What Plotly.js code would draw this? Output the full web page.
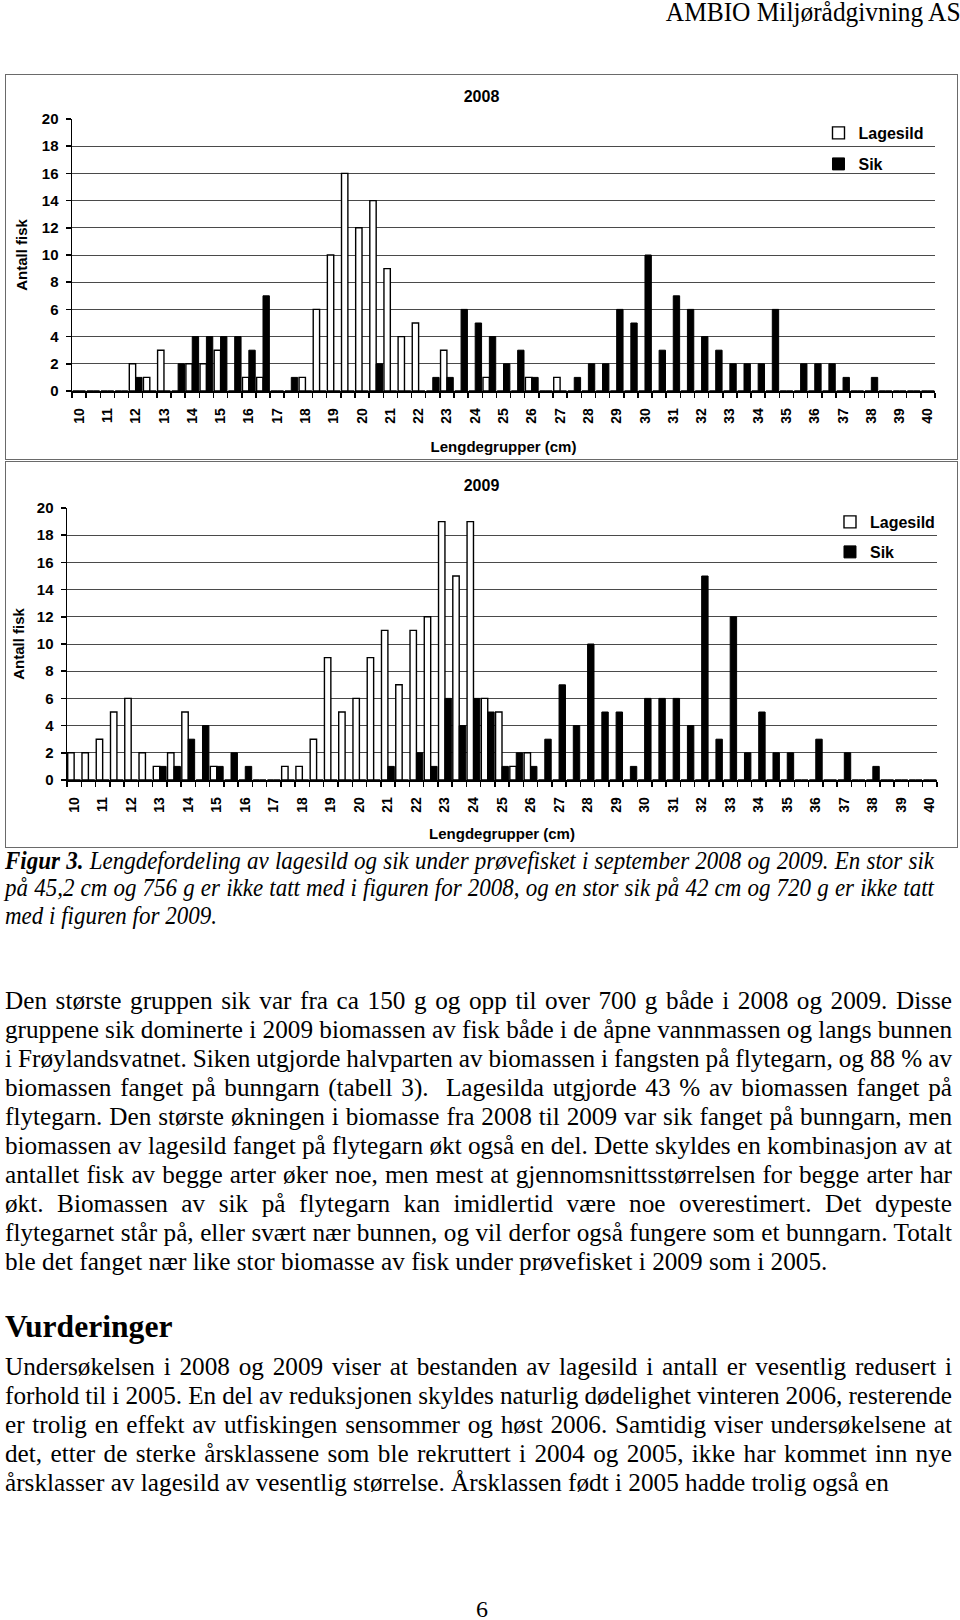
<!DOCTYPE html>
<html>
<head>
<meta charset="utf-8">
<script src="https://cdn.plot.ly/plotly-3.0.1.min.js"></script>
<style>
  html, body { margin:0; padding:0; background:#fff; }
  body { width:960px; height:1620px; position:relative; overflow:hidden; font-family:"Liberation Serif","Times New Roman",serif; color:#000; }
  .box { position:absolute; border:1px solid #6a6a6a; background:#fff; }
  .chart { position:absolute; left:0; top:0; }
  .ln { position:absolute; left:5px; white-space:nowrap; transform-origin:0 50%; line-height:30px; height:30px; }
  .cap { font-style:italic; }
  .hdr { position:absolute; right:-1px; top:-3px; font-size:27px; line-height:30px; transform-origin:100% 50%; transform:scaleX(0.94); white-space:nowrap; }
  .h2 { position:absolute; left:5px; font-size:31px; font-weight:bold; line-height:36px; transform-origin:0 50%; transform:scaleX(1.02); }
  .pg { position:absolute; left:0; width:964px; text-align:center; font-size:24px; line-height:30px; }
</style>
</head>
<body>
<div class="hdr">AMBIO Miljørådgivning AS</div>

<div class="box" style="left:5px; top:74px; width:951px; height:384px;"><div id="c2008" class="chart"></div></div>
<div class="box" style="left:5px; top:461px; width:951px; height:385px;"><div id="c2009" class="chart"></div></div>

<div id="text"></div>

<script>
// ---------------- DATA ----------------
const lengthGroups = [10,10.5,11,11.5,12,12.5,13,13.5,14,14.5,15,15.5,16,16.5,17,17.5,18,18.5,19,19.5,
  20,20.5,21,21.5,22,22.5,23,23.5,24,24.5,25,25.5,26,26.5,27,27.5,28,28.5,29,29.5,
  30,30.5,31,31.5,32,32.5,33,33.5,34,34.5,35,35.5,36,36.5,37,37.5,38,38.5,39,39.5,40];

const tickLabels = ['10','11','12','13','14','15','16','17','18','19','20','21','22','23','24','25',
  '26','27','28','29','30','31','32','33','34','35','36','37','38','39','40'];

const seriesNames = ['Lagesild', 'Sik'];

const lagesild2008 = [0,0,0,0,2,1,3,0,2,2,3,0,1,1,0,0,1,6,10,16,
  12,14,9,4,5,0,3,0,0,1,0,0,1,0,1,0,0,0,0,0,
  0,0,0,0,0,0,0,0,0,0,0,0,0,0,0,0,0,0,0,0,0];
const sik2008 = [0,0,0,0,1,0,0,2,4,4,4,4,3,7,0,1,0,0,0,0,
  0,2,0,0,0,1,1,6,5,4,2,3,1,0,0,1,2,2,6,5,
  10,3,7,6,4,3,2,2,2,6,0,2,2,2,1,0,1,0,0,0,0];

const lagesild2009 = [2,2,3,5,6,2,1,2,5,0,1,0,0,0,0,1,1,3,9,5,
  6,9,11,7,11,12,19,15,19,6,5,1,2,0,0,0,0,0,0,0,
  0,0,0,0,0,0,0,0,0,0,0,0,0,0,0,0,0,0,0,0,0];
const sik2009 = [0,0,0,0,0,0,1,1,3,4,1,2,1,0,0,0,0,0,0,0,
  0,0,1,0,2,1,6,4,6,5,1,2,1,3,7,4,10,5,5,1,
  6,6,6,4,15,3,12,2,5,2,2,0,3,0,2,0,1,0,0,0,0];

const yAxisTitle = 'Antall fisk';
const xAxisTitle = 'Lengdegrupper (cm)';

// ---------------- CHARTS ----------------
const FONT = 'Liberation Sans, Arial, Helvetica, sans-serif';

function makeChart(id, year, lag, sik, g) {
  const traces = [
    { type:'bar', name:seriesNames[0], x:lengthGroups, y:lag,
      marker:{ color:'#ffffff', line:{ color:'#000', width:1.4 } }, legend:'legend', hoverinfo:'skip' },
    { type:'bar', name:seriesNames[1], x:lengthGroups, y:sik,
      marker:{ color:'#000000', line:{ color:'#000', width:1 } }, legend:'legend2', hoverinfo:'skip' }
  ];
  const plotH = g.h - g.t - g.b;
  const layout = {
    width:g.w, height:g.h,
    margin:{ l:g.l, r:g.r, t:g.t, b:g.b, pad:0 },
    paper_bgcolor:'rgba(0,0,0,0)', plot_bgcolor:'#fff',
    font:{ family:FONT, color:'#000' },
    title:{ text:year, font:{ size:16, weight:'bold', family:FONT, color:'#000' },
            xref:'container', x:0.5, xanchor:'center', yref:'container', y:1 - g.titleY / g.h, yanchor:'middle' },
    barmode:'group', bargap:0.1, bargroupgap:0,
    showlegend:true,
    legend:{ x:g.legX, xanchor:'left', y:1 - (g.leg1 - g.t) / plotH, yanchor:'middle',
             bgcolor:'rgba(0,0,0,0)', borderwidth:0, font:{ size:16, weight:'bold', family:FONT }, itemwidth:30 },
    legend2:{ x:g.legX, xanchor:'left', y:1 - (g.leg2 - g.t) / plotH, yanchor:'middle',
             bgcolor:'rgba(0,0,0,0)', borderwidth:0, font:{ size:16, weight:'bold', family:FONT }, itemwidth:30 },
    xaxis:{
      range:[9.75, 40.25], tickmode:'array', tickvals:tickLabels.map(Number), ticktext:tickLabels,
      tickangle:-90, ticks:'', showline:true, linecolor:'#000', linewidth:1.5,
      showgrid:false, zeroline:false, fixedrange:true, automargin:false,
      tickfont:{ size:14, weight:'bold', family:FONT },
      ticklabelstandoff:g.xStand,
      minor:{ ticks:'outside', ticklen:5, tickwidth:1.5, tickcolor:'#000', tickmode:'linear', tick0:9.75, dtick:0.5, showgrid:false },
      title:{ text:xAxisTitle, font:{ size:15, weight:'bold', family:FONT }, standoff:g.xTitleStand }
    },
    yaxis:{
      range:[0, 20], tickmode:'linear', tick0:0, dtick:2,
      showgrid:true, gridcolor:'#4a4a4a', gridwidth:1,
      showline:true, linecolor:'#000', linewidth:1.5,
      ticks:'outside', ticklen:5, tickwidth:1.5, tickcolor:'#000',
      zeroline:false, fixedrange:true, automargin:false,
      tickfont:{ size:15, weight:'bold', family:FONT },
      ticklabelstandoff:4,
      title:{ text:yAxisTitle, font:{ size:15, weight:'bold', family:FONT }, standoff:g.yTitleStand }
    }
  };
  return Plotly.newPlot(id, traces, layout, { staticPlot:true, displayModeBar:false });
}

makeChart('c2008', '2008', lagesild2008, sik2008,
  { w:951, h:384, l:66, r:22, t:44, b:68, titleY:21, leg1:58, leg2:89, legX:0.865, xStand:10, xTitleStand:19, yTitleStand:10 });
makeChart('c2009', '2009', lagesild2009, sik2009,
  { w:951, h:385, l:61, r:20, t:46, b:67, titleY:23, leg1:60, leg2:90, legX:0.877, xStand:10, xTitleStand:17, yTitleStand:8 });

// ---------------- TEXT ----------------
const BODY = { size:26, scale:0.97 };
const CAP = { size:25, scale:0.92 };
const TEXT_W = 947;
const lines = [
  { y:861, cap:true, j:true, html:'<b>Figur 3.</b> Lengdefordeling av lagesild og sik under prøvefisket i september 2008 og 2009. En stor sik', w:929 },
  { y:888, cap:true, j:true, html:'på 45,2 cm og 756 g er ikke tatt med i figuren for 2008, og en stor sik på 42 cm og 720 g er ikke tatt', w:929 },
  { y:916, cap:true, j:false, html:'med i figuren for 2009.' },
  { y:1001, j:true, html:'Den største gruppen sik var fra ca 150 g og opp til over 700 g både i 2008 og 2009. Disse' },
  { y:1030, j:true, html:'gruppene sik dominerte i 2009 biomassen av fisk både i de åpne vannmassen og langs bunnen' },
  { y:1059, j:true, html:'i Frøylandsvatnet. Siken utgjorde halvparten av biomassen i fangsten på flytegarn, og 88 % av' },
  { y:1088, j:true, html:'biomassen fanget på bunngarn (tabell 3).&nbsp; Lagesilda utgjorde 43 % av biomassen fanget på' },
  { y:1117, j:true, html:'flytegarn. Den største økningen i biomasse fra 2008 til 2009 var sik fanget på bunngarn, men' },
  { y:1146, j:true, html:'biomassen av lagesild fanget på flytegarn økt også en del. Dette skyldes en kombinasjon av at' },
  { y:1175, j:true, html:'antallet fisk av begge arter øker noe, men mest at gjennomsnittsstørrelsen for begge arter har' },
  { y:1204, j:true, html:'økt. Biomassen av sik på flytegarn kan imidlertid være noe overestimert. Det dypeste' },
  { y:1233, j:true, html:'flytegarnet står på, eller svært nær bunnen, og vil derfor også fungere som et bunngarn. Totalt' },
  { y:1262, j:false, html:'ble det fanget nær like stor biomasse av fisk under prøvefisket i 2009 som i 2005.' },
  { y:1367, j:true, html:'Undersøkelsen i 2008 og 2009 viser at bestanden av lagesild i antall er vesentlig redusert i' },
  { y:1396, j:true, html:'forhold til i 2005. En del av reduksjonen skyldes naturlig dødelighet vinteren 2006, resterende' },
  { y:1425, j:true, html:'er trolig en effekt av utfiskingen sensommer og høst 2006. Samtidig viser undersøkelsene at' },
  { y:1454, j:true, html:'det, etter de sterke årsklassene som ble rekruttert i 2004 og 2005, ikke har kommet inn nye' },
  { y:1483, j:false, html:'årsklasser av lagesild av vesentlig størrelse. Årsklassen født i 2005 hadde trolig også en' }
];
const host = document.getElementById('text');
lines.forEach(L => {
  const st = L.cap ? CAP : BODY;
  const d = document.createElement('div');
  d.className = 'ln' + (L.cap ? ' cap' : '');
  d.style.top = (L.y - 15) + 'px';
  d.style.fontSize = st.size + 'px';
  d.innerHTML = L.html;
  host.appendChild(d);
  let scale = st.scale;
  if (L.j) {
    const target = (L.w || TEXT_W);
    const natural = d.getBoundingClientRect().width;          // unscaled width
    const spaces = (d.textContent.match(/[ \u00a0]/g) || []).length;
    let ws = (target / scale - natural) / Math.max(spaces, 1);
    if (ws < -3) {                                           // too long: compress glyphs a little more
      ws = -3;
      scale = target / (natural + ws * spaces);
    }
    d.style.wordSpacing = ws + 'px';
  }
  d.style.transform = 'scaleX(' + scale + ')';
});
const h = document.createElement('div');
h.className = 'h2'; h.style.top = (1327 - 18) + 'px'; h.textContent = 'Vurderinger';
host.appendChild(h);
const p = document.createElement('div');
p.className = 'pg'; p.style.top = (1609 - 15) + 'px'; p.textContent = '6';
host.appendChild(p);
</script>
</body>
</html>
